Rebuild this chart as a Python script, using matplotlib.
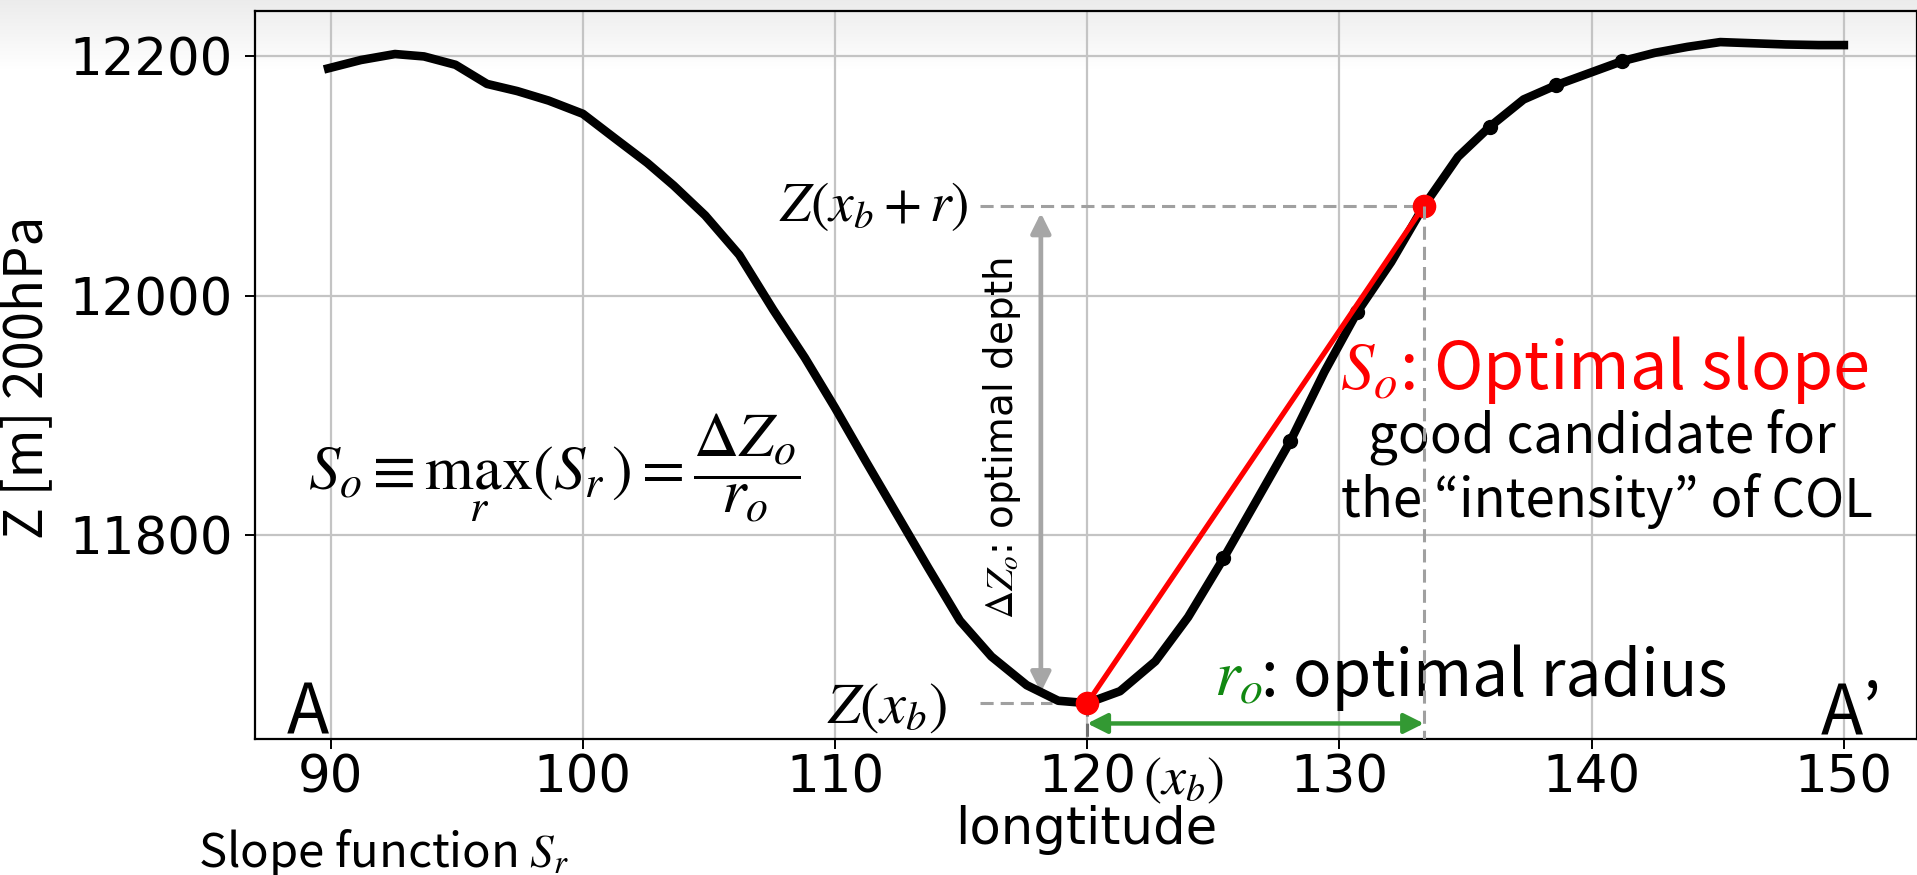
import matplotlib
matplotlib.use("Agg")
import matplotlib.pyplot as plt
import numpy as np

plt.rcParams['mathtext.fontset'] = 'stix'

# 200 hPa geopotential height along the A-A' section
lon = [89.9, 91.2, 92.55, 93.7, 94.95, 96.2, 97.4, 98.65, 100.0, 101.3,
       102.55, 103.6, 104.85, 106.2, 107.55, 108.8, 110.0, 111.2, 112.45, 113.7,
       114.95, 116.2, 117.6, 118.85, 120.0, 121.3, 122.7, 124.0, 125.4, 126.7,
       128.05, 129.4, 130.7, 132.05, 133.35, 134.7, 135.95, 137.3, 138.6, 139.9,
       141.2, 142.5, 143.8, 145.1, 146.4, 147.7, 149.0, 150.0]
z200 = [12190, 12197, 12202, 12200, 12193, 12177, 12171, 12163, 12152, 12131,
        12111, 12092, 12067, 12034, 11988, 11948, 11906, 11862, 11817, 11772,
        11728, 11698, 11674, 11661, 11659, 11669, 11694, 11731, 11780, 11828,
        11878, 11936, 11986, 12028, 12075, 12116, 12141, 12164, 12176, 12186,
        12196, 12203, 12208, 12212, 12211, 12210, 12209.5, 12209.5]

# radii at which the slope function is evaluated
sample_lon = [125.4, 128.05, 130.7, 135.95, 138.6, 141.2]
ib = lon.index(120.0)      # base point x_b
io = lon.index(133.35)     # x_b + r_o

xticks = [90, 100, 110, 120, 130, 140, 150]
yticks = [11800, 12000, 12200]

JP = ['Noto Sans CJK JP', 'DejaVu Sans']
GREY = '#a0a0a0'

fig = plt.figure(figsize=(19.17, 8.75), dpi=100)

# light shading at the top of the slide
bg = fig.add_axes([0, 1 - 70 / 875, 1, 70 / 875], zorder=-1)
grad = np.linspace(0.925, 1.0, 64).reshape(-1, 1)
bg.imshow(np.dstack([grad, grad, grad]), aspect='auto', extent=[0, 1, 0, 1])
bg.axis('off')

ax = fig.add_axes([255 / 1917, 1 - 739 / 875, 1 - 255 / 1917, (739 - 11) / 875])
ax.set_facecolor('none')

ax.plot(lon, z200, color='black', lw=6.2, solid_joinstyle='round', zorder=3,
        marker='o', ms=10, markevery=[lon.index(v) for v in sample_lon])

x_b, z_b = lon[ib], z200[ib]
x_r, z_r = lon[io], z200[io]

# guide lines for Z(x_b) and Z(x_b + r)
dash = (0, (4.3, 2.3))
ax.plot([115.74, x_r], [z_r, z_r], color=GREY, lw=2.2, ls=dash, zorder=2)
ax.plot([115.74, 118.6], [z_b, z_b], color=GREY, lw=2.2, ls=dash, zorder=2)
ax.plot([x_r, x_r], [z_r, 11629], color=GREY, lw=2.2, ls=dash, zorder=6)
ax.plot([x_b, x_b], [z_b, 11629], color='#707070', lw=2.2, ls=dash, zorder=2)

# optimal slope segment
ax.plot([x_b, x_r], [z_b, z_r], color='red', lw=3.8, marker='o', ms=16, zorder=5)

# optimal depth and radius arrows
ax.annotate('', xy=(118.16, 12069), xytext=(118.16, 11668),
            arrowprops=dict(arrowstyle='<|-|>', color='#a6a6a6', lw=3.4,
                            mutation_scale=30, shrinkA=0, shrinkB=0), zorder=2)
ax.annotate('', xy=(x_b, 11642), xytext=(x_r, 11642),
            arrowprops=dict(arrowstyle='<|-|>', color='#339933', lw=3.2,
                            mutation_scale=30, shrinkA=0, shrinkB=0), zorder=4)

ax.set_xlim(87.0, 152.9)
ax.set_ylim(11629, 12238)
ax.set_xticks(xticks)
ax.set_yticks(yticks)
ax.grid(True, color='#c4c4c4', lw=1.6)
ax.set_axisbelow(True)
ax.tick_params(labelsize=37, length=7, width=1.4)
ax.tick_params(axis='y', pad=9)
for s in ax.spines.values():
    s.set_linewidth(1.6)
ax.set_xlabel('longtitude', fontsize=37, labelpad=1)

# annotations inside the axes
ax.text(115.3, z_r, r'$Z(x_b+r)$', fontsize=40, ha='right', va='center')
ax.text(114.42, z_b - 3, r'$Z(x_b)$', fontsize=42, ha='right', va='center')
ax.text(116.6, 11881, r'$\Delta Z_o$: optimal depth', fontsize=28,
        rotation=90, ha='center', va='center')
ax.text(98.86, 11856, r'$S_o \equiv \max_{r}(S_r) = \dfrac{\Delta Z_o}{r_o}$',
        fontsize=45, ha='center', va='center')
ax.text(140.5, 11922, r'$S_o$: Optimal slope', fontsize=48, color='red',
        family=JP, ha='center', va='baseline')
ax.text(140.4, 11869, 'good candidate for', fontsize=38, family=JP,
        ha='center', va='baseline')
ax.text(140.6, 11815, 'the \u201cintensity\u201d of COL', fontsize=38, family=JP,
        ha='center', va='baseline')
ax.text(125.02, 11665, r'$r_o$', fontsize=47, color='#118811', ha='left', va='baseline')
ax.text(126.9, 11665, ': optimal radius', fontsize=46, family=JP, ha='left', va='baseline')
ax.text(89.09, 11633, 'A', fontsize=50, family=JP, ha='center', va='baseline')
ax.text(149.1, 11633, 'A\u2019', fontsize=50, family=JP, ha='left', va='baseline')

# labels outside the axes
fig.text(1143 / 1917, 1 - 780 / 875, r'$(x_b)$', fontsize=39, ha='left', va='center')
fig.text(42 / 1917, 1 - 377 / 875, 'Z [m] 200hPa', fontsize=38, family=JP,
         rotation=90, rotation_mode='anchor', ha='center', va='baseline')
fig.text(198 / 1917, 1 - 867 / 875, r'Slope function $S_r$', fontsize=34,
         family=JP, ha='left', va='baseline')

fig.savefig('out.png', dpi=100)
